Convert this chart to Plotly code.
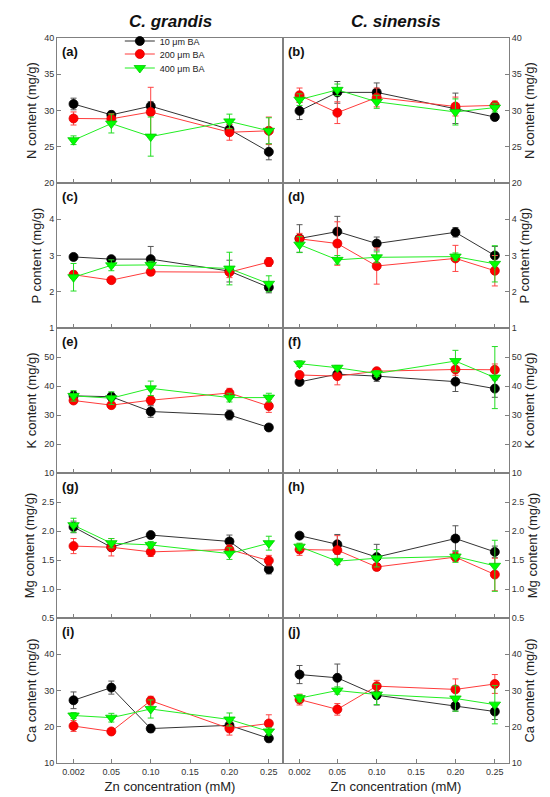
import plotly.graph_objects as go
from plotly.subplots import make_subplots

zn = [0.002, 0.05, 0.10, 0.20, 0.25]
x_tickvals = [0.002, 0.05, 0.10, 0.15, 0.20, 0.25]
x_ticktext = ["0.002", "0.05", "0.10", "0.15", "0.20", "0.25"]
series_names = ["10 \u03bcm BA", "200 \u03bcm BA", "400 \u03bcm BA"]
species = ["C. grandis", "C. sinensis"]
panel_labels = ["(a)", "(b)", "(c)", "(d)", "(e)", "(f)", "(g)", "(h)", "(i)", "(j)"]
y_titles = ["N content (mg/g)", "P content (mg/g)", "K content (mg/g)",
            "Mg content (mg/g)", "Ca content (mg/g)"]

# N
N_grandis_10 = [30.9, 29.4, 30.6, 27.4, 24.3]
N_grandis_10_err = [0.8, 0.5, 0.6, 0.7, 1.1]
N_grandis_200 = [28.9, 28.85, 29.8, 27.0, 27.2]
N_grandis_200_err = [0.9, 0.7, 3.4, 1.1, 1.9]
N_grandis_400 = [25.9, 28.2, 26.4, 28.5, 27.2]
N_grandis_400_err = [0.6, 1.3, 2.7, 1.0, 1.8]
N_sinensis_10 = [29.95, 32.5, 32.5, 30.3, 29.1]
N_sinensis_10_err = [1.2, 1.5, 1.3, 2.1, 0.4]
N_sinensis_200 = [32.1, 29.7, 31.8, 30.55, 30.7]
N_sinensis_200_err = [1.0, 1.5, 1.3, 1.3, 0.6]
N_sinensis_400 = [31.5, 32.85, 31.2, 29.8, 30.4]
N_sinensis_400_err = [0.8, 0.8, 0.9, 1.8, 0.6]
# P
P_grandis_10 = [2.96, 2.90, 2.90, 2.57, 2.12]
P_grandis_10_err = [0.05, 0.05, 0.35, 0.3, 0.15]
P_grandis_200 = [2.47, 2.32, 2.55, 2.54, 2.82]
P_grandis_200_err = [0.1, 0.07, 0.1, 0.15, 0.12]
P_grandis_400 = [2.40, 2.73, 2.74, 2.64, 2.22]
P_grandis_400_err = [0.38, 0.15, 0.1, 0.45, 0.22]
P_sinensis_10 = [3.47, 3.66, 3.33, 3.64, 3.0]
P_sinensis_10_err = [0.38, 0.42, 0.18, 0.13, 0.25]
P_sinensis_200 = [3.46, 3.33, 2.71, 2.92, 2.58]
P_sinensis_200_err = [0.15, 0.6, 0.5, 0.36, 0.42]
P_sinensis_400 = [3.30, 2.88, 2.95, 2.97, 2.77]
P_sinensis_400_err = [0.22, 0.12, 0.15, 0.1, 0.5]
# K
K_grandis_10 = [36.6, 36.3, 31.2, 30.0, 25.7]
K_grandis_10_err = [1.5, 1.3, 2.0, 1.7, 0.8]
K_grandis_200 = [35.0, 33.4, 35.1, 37.6, 33.1]
K_grandis_200_err = [1.0, 1.2, 1.5, 1.6, 2.2]
K_grandis_400 = [36.6, 35.8, 39.2, 36.0, 36.0]
K_grandis_400_err = [1.8, 2.2, 2.5, 1.5, 1.5]
K_sinensis_10 = [41.4, 44.1, 43.4, 41.5, 39.1]
K_sinensis_10_err = [1.0, 1.0, 1.8, 3.4, 3.0]
K_sinensis_200 = [43.8, 43.4, 45.1, 45.7, 45.6]
K_sinensis_200_err = [1.0, 3.0, 0.8, 2.0, 2.0]
K_sinensis_400 = [47.7, 46.3, 44.3, 48.6, 42.9]
K_sinensis_400_err = [1.0, 0.8, 1.0, 3.7, 10.7]
# Mg
Mg_grandis_10 = [2.07, 1.72, 1.93, 1.82, 1.34]
Mg_grandis_10_err = [0.1, 0.05, 0.04, 0.11, 0.08]
Mg_grandis_200 = [1.74, 1.72, 1.64, 1.68, 1.49]
Mg_grandis_200_err = [0.13, 0.15, 0.08, 0.08, 0.09]
Mg_grandis_400 = [2.10, 1.79, 1.76, 1.61, 1.79]
Mg_grandis_400_err = [0.12, 0.08, 0.06, 0.1, 0.12]
Mg_sinensis_10 = [1.92, 1.77, 1.55, 1.87, 1.64]
Mg_sinensis_10_err = [0.05, 0.17, 0.22, 0.22, 0.1]
Mg_sinensis_200 = [1.68, 1.67, 1.38, 1.55, 1.25]
Mg_sinensis_200_err = [0.1, 0.25, 0.06, 0.08, 0.28]
Mg_sinensis_400 = [1.73, 1.48, 1.53, 1.56, 1.40]
Mg_sinensis_400_err = [0.06, 0.05, 0.15, 0.1, 0.44]
# Ca
Ca_grandis_10 = [27.3, 30.8, 19.5, 20.4, 16.8]
Ca_grandis_10_err = [2.3, 1.8, 1.0, 1.3, 1.0]
Ca_grandis_200 = [20.2, 18.7, 27.2, 19.5, 20.9]
Ca_grandis_200_err = [1.5, 0.6, 1.2, 1.8, 2.4]
Ca_grandis_400 = [23.1, 22.5, 24.9, 22.0, 18.7]
Ca_grandis_400_err = [0.8, 1.2, 2.5, 1.8, 1.0]
Ca_sinensis_10 = [34.4, 33.5, 28.7, 25.8, 24.2]
Ca_sinensis_10_err = [2.5, 3.8, 2.7, 1.5, 2.2]
Ca_sinensis_200 = [27.5, 24.8, 31.2, 30.3, 31.8]
Ca_sinensis_200_err = [1.5, 1.6, 1.6, 2.9, 2.6]
Ca_sinensis_400 = [27.9, 30.0, 28.9, 27.8, 26.1]
Ca_sinensis_400_err = [1.0, 1.0, 2.8, 3.5, 5.3]

y_ranges = [[20, 40], [1, 5], [10, 60], [0.5, 3.0], [10, 50]]
y_tickvals = [[20, 25, 30, 35, 40], [1, 2, 3, 4], [10, 20, 30, 40, 50],
              [0.5, 1.0, 1.5, 2.0, 2.5], [10, 20, 30, 40]]
y_ticktext = [["20", "25", "30", "35", "40"], ["1", "2", "3", "4"],
              ["10", "20", "30", "40", "50"], ["0.5", "1.0", "1.5", "2.0", "2.5"],
              ["10", "20", "30", "40"]]

data = [
    [[(N_grandis_10, N_grandis_10_err), (N_grandis_200, N_grandis_200_err), (N_grandis_400, N_grandis_400_err)],
     [(N_sinensis_10, N_sinensis_10_err), (N_sinensis_200, N_sinensis_200_err), (N_sinensis_400, N_sinensis_400_err)]],
    [[(P_grandis_10, P_grandis_10_err), (P_grandis_200, P_grandis_200_err), (P_grandis_400, P_grandis_400_err)],
     [(P_sinensis_10, P_sinensis_10_err), (P_sinensis_200, P_sinensis_200_err), (P_sinensis_400, P_sinensis_400_err)]],
    [[(K_grandis_10, K_grandis_10_err), (K_grandis_200, K_grandis_200_err), (K_grandis_400, K_grandis_400_err)],
     [(K_sinensis_10, K_sinensis_10_err), (K_sinensis_200, K_sinensis_200_err), (K_sinensis_400, K_sinensis_400_err)]],
    [[(Mg_grandis_10, Mg_grandis_10_err), (Mg_grandis_200, Mg_grandis_200_err), (Mg_grandis_400, Mg_grandis_400_err)],
     [(Mg_sinensis_10, Mg_sinensis_10_err), (Mg_sinensis_200, Mg_sinensis_200_err), (Mg_sinensis_400, Mg_sinensis_400_err)]],
    [[(Ca_grandis_10, Ca_grandis_10_err), (Ca_grandis_200, Ca_grandis_200_err), (Ca_grandis_400, Ca_grandis_400_err)],
     [(Ca_sinensis_10, Ca_sinensis_10_err), (Ca_sinensis_200, Ca_sinensis_200_err), (Ca_sinensis_400, Ca_sinensis_400_err)]],
]

line_colors = ["#333333", "#ff3b3b", "#22ee22"]
marker_colors = ["#000000", "#ff0000", "#00ff00"]
marker_lines = ["#000000", "#dd0000", "#00cc00"]
err_colors = ["#555555", "#ff4444", "#22dd22"]
symbols = ["circle", "circle", "triangle-down"]
msizes = [9, 9, 10]
legend_ids = ["legend", "legend2", "legend3"]

fig = make_subplots(rows=5, cols=2, horizontal_spacing=0, vertical_spacing=0)

FONT = "Arial, Liberation Sans, sans-serif"
frame = "#808080"

for r in range(5):
    for c in range(2):
        for s in range(3):
            vals, errs = data[r][c][s]
            fig.add_trace(go.Scatter(
                x=zn, y=vals, mode="lines+markers", name=series_names[s],
                showlegend=(r == 0 and c == 0), legend=legend_ids[s],
                line=dict(color=line_colors[s], width=1),
                marker=dict(symbol=symbols[s], size=msizes[s], color=marker_colors[s],
                            line=dict(color=marker_lines[s], width=0.8)),
                error_y=dict(type="data", array=errs, visible=True,
                             color=err_colors[s], thickness=1, width=3),
            ), row=r + 1, col=c + 1)
        fig.update_xaxes(row=r + 1, col=c + 1, range=[-0.019, 0.268],
                         tickvals=x_tickvals, ticktext=x_ticktext,
                         showticklabels=(r == 4), ticks="inside", ticklen=4,
                         tickcolor=frame, showline=True, linecolor=frame,
                         linewidth=1, mirror=True, showgrid=False, zeroline=False,
                         tickfont=dict(family=FONT, size=9, color="#333333"),
                         title=dict(text="Zn concentration (mM)" if r == 4 else "",
                                    font=dict(family=FONT, size=13, color="#222222"),
                                    standoff=6))
        fig.update_yaxes(row=r + 1, col=c + 1, range=y_ranges[r],
                         tickvals=y_tickvals[r], ticktext=y_ticktext[r],
                         side="left" if c == 0 else "right",
                         ticks="inside", ticklen=4, tickcolor=frame,
                         showline=True, linecolor=frame, linewidth=1, mirror=True,
                         showgrid=False, zeroline=False,
                         tickfont=dict(family=FONT, size=9, color="#333333"),
                         title=dict(text=y_titles[r],
                                    font=dict(family=FONT, size=13, color="#222222"),
                                    standoff=4))

annotations = []
for i in range(10):
    axn = "" if i == 0 else str(i + 1)
    annotations.append(dict(text="<b>" + panel_labels[i] + "</b>", xref="x" + axn + " domain",
                            yref="y" + axn + " domain", x=0.012, y=0.975,
                            xanchor="left", yanchor="top", showarrow=False,
                            font=dict(family=FONT, size=13, color="#111111")))
for c in range(2):
    annotations.append(dict(text="<b><i>" + species[c] + "</i></b>", xref="paper", yref="paper",
                            x=0.25 + 0.5 * c, y=1.0 + 17 / 725, xanchor="center",
                            yanchor="middle", showarrow=False,
                            font=dict(family=FONT, size=17, color="#111111")))

legend_style = dict(xanchor="left", yanchor="top", bgcolor="rgba(0,0,0,0)",
                    font=dict(family=FONT, size=9, color="#222222"), itemwidth=30)
legend_x = 0.139
legend_rows_px = [39, 52, 66]
legend_ys = [1.0 - (py - 20.5 - 30) / 725 for py in legend_rows_px]

fig.update_layout(
    width=550, height=797,
    margin=dict(l=49, r=49, t=30, b=42),
    paper_bgcolor="white", plot_bgcolor="white",
    annotations=annotations,
    showlegend=True,
    legend=dict(x=legend_x, y=legend_ys[0], **legend_style),
    legend2=dict(x=legend_x, y=legend_ys[1], **legend_style),
    legend3=dict(x=legend_x, y=legend_ys[2], **legend_style),
)

fig.write_html("out.html")
